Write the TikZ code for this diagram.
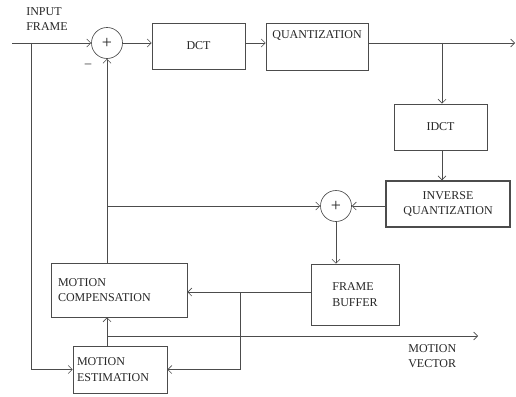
\documentclass[tikz,border=0pt]{standalone}
\usepackage{fontspec}
\setmainfont{Liberation Serif}
\usetikzlibrary{arrows.meta, positioning, calc}

\begin{document}
\begin{tikzpicture}[x=1pt, y=-1pt, line width=0.65pt, draw=black!70,
                every node/.style={font=\fontsize{12}{15.5}\selectfont, text=black!85},
                box/.style={rectangle, draw, align=center},
                adder/.style={circle, draw, minimum size=31pt, inner sep=0pt, font=\fontsize{18}{18}\selectfont},
                arr/.style={-{Straight Barb[length=4pt, width=8pt]}}]
                \useasboundingbox (0,0) rectangle (516,396);

                % forward path
                \node[adder] (add1) at (107,43) {+};
                \node[box, minimum width=93pt, minimum height=46pt] (dct) at (198.5,46) {DCT};
                \node[box, minimum width=102pt, inner ysep=3pt, text height=12pt, text depth=29pt] (quant) at (317,46.5) {QUANTIZATION};
                \node[box, minimum width=93pt, minimum height=46pt] (idct) at (440.5,127) {IDCT};
                \node[box, line width=1.3pt, minimum width=124pt, minimum height=46pt] (invq) at (448,204) {INVERSE\\QUANTIZATION};
                \node[adder] (add2) at (336,206) {+};

                % reconstruction / prediction
                \node[box, align=left, minimum width=88pt, minimum height=61pt] (fbuf) at (355,294.5) {FRAME\\BUFFER};
                \node[box, align=left, text width=122pt, inner xsep=7pt, minimum height=54pt] (mc) at (119,290) {MOTION\\COMPENSATION};
                \node[box, align=left, text width=86pt, inner xsep=4pt, minimum height=47pt] (me) at (120,369.5) {MOTION\\ESTIMATION};

                \node[align=left, anchor=north west, inner sep=0pt] (inlbl) at (26,7) {INPUT\\FRAME};
                \node[align=left, anchor=north west, inner sep=0pt] (mvlbl) at (408,344) {MOTION\\VECTOR};
                \node[font=\fontsize{13}{15}\selectfont] (minus) at (88,66) {--};

                \coordinate (in) at (12,43);
                \coordinate (split1) at (31,43);
                \coordinate (out) at (515,43);
                \coordinate (split3) at (442,43);
                \coordinate (split2) at (240,292);
                \coordinate (mvend) at (478,336);

                \draw[arr] (in) -- (add1.west);
                \draw[arr] (split1) |- (me.west);
                \draw[arr] (add1.east) -- (add1.east -| dct.west);
                \draw[arr] (dct.east |- add1) -- (quant.west |- add1);
                \draw[arr] (quant.east |- add1) -- (out);
                \draw[arr] (split3) -- (split3 |- idct.north);
                \draw[arr] (idct.south -| split3) -- (split3 |- invq.north);
                \draw[arr] (invq.west |- add2) -- (add2.east);
                \draw[arr] (add1 |- add2) -- (add2.west);
                \draw[arr] (add2.south) -- (add2 |- fbuf.north);
                \draw[arr] (add1 |- mc.north) -- (add1.south);
                \draw[arr] (fbuf.west |- split2) -- (mc.east |- split2);
                \draw[arr] (split2) |- (me.east);
                \draw[arr] (add1 |- me.north) -- (add1 |- mc.south);
                \draw[arr] (add1 |- mvend) -- (mvend);
            \end{tikzpicture}
\end{document}
